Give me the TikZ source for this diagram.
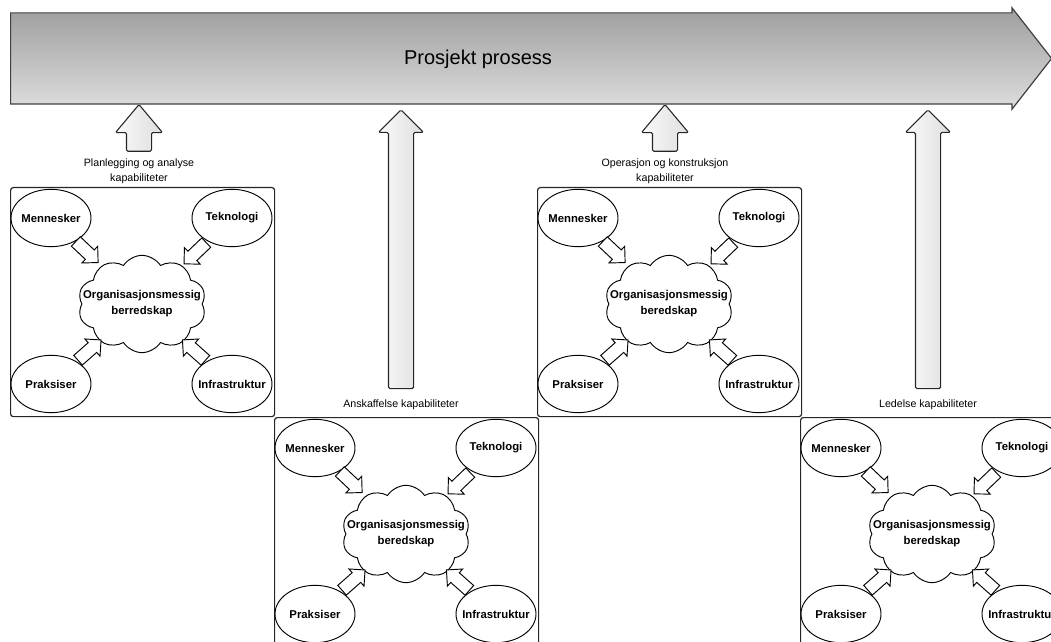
\documentclass[tikz,border=0pt]{standalone}
\usepackage{fontspec}
\setmainfont{Liberation Sans}
\usetikzlibrary{shapes.symbols,shapes.arrows,shapes.geometric,positioning}

\begin{document}
\begin{tikzpicture}[x=0.75pt,
y=-0.75pt,
every node/.style={
align=center,
inner sep=0pt,
font=\fontsize{8.5}{12}\selectfont\bfseries,
},
box/.style={
draw=black!85,
line width=0.9pt,
rounded corners=2pt,
anchor=north west,
minimum width=198pt,
minimum height=171.75pt,
},
actor/.style={
draw,
ellipse,
line width=0.7pt,
fill=white,
minimum width=60pt,
minimum height=43pt,
},
sky/.style={
draw,
cloud,
cloud puffs=10,
cloud puff arc=115,
aspect=1.4,
line width=0.7pt,
fill=white,
minimum width=96pt,
minimum height=73pt,
},
feed/.style={
draw,
single arrow,
fill=white,
line width=0.7pt,
inner sep=4.5pt,
minimum height=23pt,
single arrow head extend=3.75pt,
sloped,
allow upside down,
},
lift/.style={
draw=black!85,
single arrow,
shape border rotate=90,
left color=black!2,
right color=black!13,
line width=0.8pt,
inner sep=9pt,
rounded corners=1pt,
},
caplabel/.style={
font=\fontsize{8}{11}\selectfont,
}]

\useasboundingbox (0,0) rectangle (1051,642);
\clip (0,0) rectangle (1051,642);

%Process arrow
\node[single arrow,draw=black!75,line width=0.9pt,top color=black!38,bottom color=black!13,inner sep=33.75pt,
minimum height=780.75pt,single arrow head extend=3.75pt,single arrow tip angle=104,anchor=tail] (proc) at (10,58.5) {};
\node[font=\fontsize{15}{18}\selectfont] (proclab) at (478,59) {Prosjekt prosess};

%Capability labels
\node[caplabel] (lab1) at (139,171) {Planlegging og analyse\\kapabiliteter};
\node[caplabel] (lab2) at (401,405) {Anskaffelse kapabiliteter};
\node[caplabel] (lab3) at (665,171) {Operasjon og konstruksjon\\kapabiliteter};
\node[caplabel] (lab4) at (928,405) {Ledelse kapabiliteter};

%Arrows up to the process
\node[lift,minimum height=35pt,single arrow head extend=8.25pt,single arrow tip angle=80,above=5pt of lab1] (up1) {};
\node[lift,minimum height=209pt,single arrow head extend=7.5pt,above=8pt of lab2] (up2) {};
\node[lift,minimum height=35pt,single arrow head extend=8.25pt,single arrow tip angle=80,above=5pt of lab3] (up3) {};
\node[lift,minimum height=209pt,single arrow head extend=7.5pt,above=8pt of lab4] (up4) {};

%Capability boxes
\foreach \bx/\by/\n/\word in {10/187/1/berredskap,274/417/2/beredskap,537/187/3/beredskap,800/417/4/beredskap}{
\node[box] (box\n) at (\bx,\by) {};
\node[sky,label={center:Organisasjonsmessig\\\word}] (sky\n) at (\bx+132,\by+117) {};
\node[actor,label={center:Mennesker}] (men\n) at (\bx+41,\by+31) {};
\node[actor,label={center:Teknologi}] (tek\n) at (\bx+222,\by+31) {};
\node[actor,label={center:Praksiser}] (pra\n) at (\bx+41,\by+197) {};
\node[actor,label={center:Infrastruktur}] (inf\n) at (\bx+222,\by+197) {};
\path (men\n) -- node[feed,pos=0.35] {} (sky\n);
\path (tek\n) -- node[feed,pos=0.4] {} (sky\n);
\path (pra\n) -- node[feed,pos=0.45] {} (sky\n);
\path (inf\n) -- node[feed,pos=0.45] {} (sky\n);
}
\end{tikzpicture}
\end{document}
